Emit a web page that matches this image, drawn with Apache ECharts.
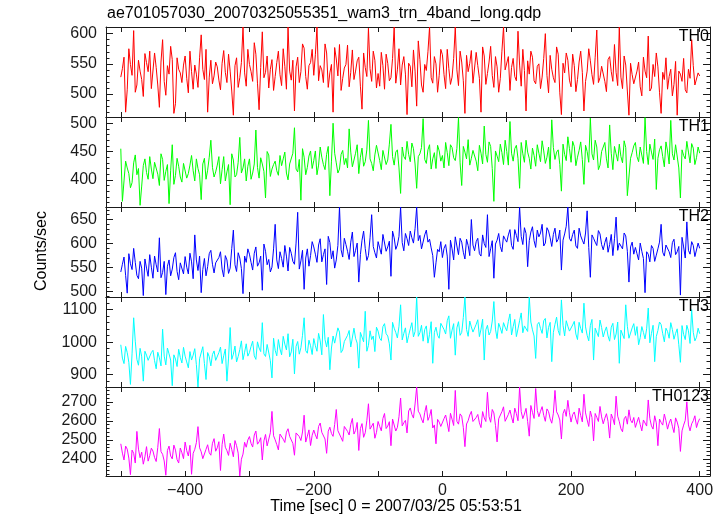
<!DOCTYPE html>
<html><head><meta charset="utf-8">
<script src="https://cdn.jsdelivr.net/npm/echarts@6/dist/echarts.min.js"></script>
<style>html,body{margin:0;padding:0;background:#fff}#c{width:723px;height:516px}</style>
</head><body><div id="c"></div>
<script>
// time bins: start and bin width (sec)
const T_START = -500, T_STEP = 2.5;

const th0 = [
528,542,561,470,507,575,549,531,605,503,515,556,538,524,496,567,552,537,571,509,
509,568,544,515,478,553,590,521,498,547,533,579,557,468,484,560,541,535,519,548,
563,526,502,571,537,508,548,533,511,560,598,541,524,574,470,528,556,517,530,553,
545,523,507,551,572,536,519,566,538,505,465,547,560,511,527,552,611,535,513,574,
549,537,521,585,566,518,474,544,603,527,536,563,510,541,557,506,529,552,571,532,
514,575,546,508,611,538,523,556,472,545,561,519,537,583,576,529,508,547,552,574,
531,565,611,522,547,540,519,583,568,511,535,549,470,577,558,530,582,506,526,543,
549,581,512,536,573,524,538,555,561,513,475,568,544,529,609,542,521,571,556,510,
534,513,569,547,508,566,551,522,527,559,611,518,540,575,515,548,562,533,466,551,
546,512,573,538,480,588,557,515,503,549,539,570,611,527,518,562,550,503,531,574,
565,532,509,574,542,516,528,559,611,540,514,571,553,522,468,564,537,551,572,518,
520,569,547,526,470,578,563,516,534,553,579,531,511,562,545,503,526,571,611,540,
538,562,506,544,559,529,522,604,548,513,574,539,472,555,533,571,561,522,517,546,
550,509,528,559,600,531,502,564,541,527,519,578,566,502,466,551,535,568,556,523,
512,566,547,504,524,553,571,536,472,521,538,575,555,532,516,561,606,519,527,546,
543,521,504,557,562,537,521,582,536,514,611,528,509,563,548,505,465,551,532,517,
519,538,553,512,497,561,538,527,596,505,510,549,529,568,545,503,468,536,524,560,
508,529,541,497,516,554,465,538,533,521,559,507,502,541,526,590,547,515,512,535,
530];

const th1 = [
455,362,398,433,421,411,386,395,430,444,409,420,355,389,425,437,413,401,441,419,
402,431,428,410,390,446,436,399,415,427,358,416,462,392,408,438,424,405,396,429,
432,403,411,426,443,416,398,437,420,409,365,428,438,401,417,440,470,422,405,414,
426,441,393,418,441,398,414,427,356,446,435,405,409,431,475,412,421,437,398,424,
437,401,412,428,488,422,403,439,428,415,368,450,444,406,419,427,433,416,408,443,
425,437,449,412,400,428,431,447,492,419,414,436,364,455,440,409,422,442,451,420,
434,451,409,426,458,440,427,418,445,459,372,433,500,447,430,412,419,445,452,427,
438,421,490,449,423,435,447,462,411,440,456,424,432,453,505,437,429,416,444,461,
460,434,418,452,449,427,435,463,498,441,426,449,453,421,376,458,441,436,468,445,
432,465,455,428,385,441,446,457,508,436,429,453,462,419,437,448,420,461,451,433,
443,421,466,448,425,462,457,439,434,455,510,430,390,459,449,437,471,426,438,452,
455,433,416,461,447,428,495,445,431,467,459,420,362,451,442,432,463,448,427,470,
450,426,503,447,433,455,461,438,385,466,446,431,470,449,438,419,456,443,424,462,
447,432,469,451,429,440,458,419,506,457,436,449,453,427,380,463,445,434,476,455,
431,468,459,425,440,452,467,436,392,461,450,431,509,446,435,470,458,418,426,450,
452,466,437,421,497,447,418,459,446,433,463,441,430,469,457,372,405,438,448,460,
466,441,432,458,455,429,510,450,427,463,449,436,472,383,438,453,460,441,423,467,
451,428,505,446,435,462,459,421,368,453,443,437,468,449,430,464,456,427,439,458,
447];

const th2 = [
541,557,572,534,497,579,558,546,590,561,534,527,563,549,492,568,549,532,577,551,
528,574,556,541,612,529,540,563,494,553,566,533,547,571,581,542,525,560,559,537,
573,551,537,580,562,527,618,566,544,574,498,546,569,533,552,579,586,557,539,560,
557,571,583,547,531,575,566,538,549,590,628,556,542,581,570,548,496,574,561,589,
578,561,545,580,593,553,560,574,503,599,584,556,567,541,551,589,640,566,548,583,
569,551,596,574,543,592,580,563,557,601,665,547,564,586,505,570,589,553,575,604,
593,578,561,597,610,562,577,589,515,615,602,568,585,549,566,596,676,587,572,611,
598,584,567,603,624,573,586,601,520,577,607,626,590,565,575,612,660,594,581,570,
604,591,578,619,621,584,593,605,532,626,612,588,597,615,676,602,585,621,610,596,
626,612,601,631,676,606,617,589,592,618,628,603,609,591,575,530,560,588,583,604,
571,590,598,574,505,607,589,566,614,595,577,611,603,582,568,609,596,575,650,597,
585,604,611,579,574,618,600,592,660,573,589,606,528,599,607,621,594,583,616,609,
603,618,629,596,588,629,617,604,676,615,598,633,621,552,606,624,635,606,592,628,
614,622,640,595,601,633,626,612,594,619,632,603,609,628,545,607,620,636,676,611,
605,619,628,595,590,632,616,607,599,622,668,592,530,618,611,603,596,627,620,598,
587,602,613,582,598,619,575,610,655,586,601,597,589,622,616,584,520,593,603,578,
592,579,566,601,584,569,498,583,578,562,596,590,563,576,589,603,640,582,574,597,
598,583,571,602,609,577,583,594,493,613,593,570,645,586,578,604,596,573,569,601,
590];

const th3 = [
992,951,934,987,968,938,870,964,1075,1003,947,929,981,955,880,972,960,944,940,968,
975,943,918,969,952,927,1040,957,930,982,964,945,866,961,948,925,978,953,936,984,
957,939,921,971,945,960,980,931,862,949,952,986,934,885,968,955,927,962,973,944,
942,968,985,934,958,979,880,951,1045,947,963,988,939,956,977,1004,946,969,995,957,
968,987,1003,958,947,1001,982,971,1060,964,956,993,990,943,890,1012,975,958,1008,979,
961,1018,994,976,1026,955,970,1009,902,987,1002,963,983,1021,1075,974,966,1006,989,962,
1011,989,972,1027,1004,961,1085,1008,985,1015,915,982,1019,997,993,1044,1031,968,976,1002,
1000,1021,1036,985,979,1043,1012,997,920,1030,1024,1001,1095,972,990,1035,1008,1019,971,1046,
1034,1012,1005,1048,1057,1026,1019,995,945,1061,1043,1030,1013,1049,1115,1007,1027,1044,998,1021,
1041,1060,1016,1033,1139,1018,1029,1052,1003,1039,1050,997,1024,1063,935,1030,1046,1021,1012,1058,
1058,1039,1025,1066,1081,1012,1037,1057,960,1044,1063,1021,1030,1076,1139,1039,1018,1065,1047,1031,
1026,1055,1069,1017,1040,1071,945,1038,1052,1022,1033,1065,1125,1040,1011,1058,1044,1027,1060,1046,
1035,1064,1087,1022,1048,1070,1017,1041,1066,1090,1029,1050,1054,1033,1139,1062,1038,1019,950,1054,
1061,1042,1027,1066,1073,1013,1045,1061,940,1030,1055,1077,1036,1021,1130,1052,1019,1066,1049,1034,
1030,1053,1064,1025,1008,1061,1042,1028,1120,1047,1021,1004,1051,1070,945,1043,1037,1017,1068,1045,
1016,1034,1047,1019,1003,1046,1058,1008,1025,1062,935,1037,1039,1011,1115,1049,1012,1028,1044,1057,
1021,1048,992,1014,1048,1030,1010,1041,1105,998,1027,1052,940,1017,1036,1062,1054,1026,1001,1043,
1033,1012,1060,1039,1009,1027,1041,992,938,1051,1024,1008,1052,1035,996,1100,1030,1004,1015,1043,
1026];

const th0123 = [
2480,2431,2395,2468,2452,2405,2318,2447,2430,2379,2545,2452,2407,2436,2373,2412,2465,2389,2418,2457,
2442,2408,2387,2461,2560,2439,2425,2390,2315,2445,2468,2416,2401,2473,2447,2397,2379,2458,2433,2402,
2489,2444,2416,2472,2320,2430,2451,2486,2570,2459,2438,2402,2397,2451,2475,2433,2420,2483,2507,2441,
2459,2491,2340,2476,2531,2462,2444,2419,2483,2450,2412,2497,2470,2431,2311,2399,2426,2488,2462,2500,
2518,2482,2463,2526,2547,2478,2490,2512,2395,2495,2529,2469,2475,2538,2650,2522,2501,2476,2448,2531,
2536,2504,2487,2541,2559,2519,2509,2482,2420,2537,2543,2518,2497,2542,2630,2489,2520,2553,2471,2525,
2552,2527,2506,2571,2589,2540,2531,2505,2430,2546,2567,2534,2519,2581,2660,2549,2545,2512,2493,2571,
2574,2545,2526,2582,2613,2531,2550,2592,2445,2560,2586,2514,2538,2601,2690,2557,2561,2588,2509,2540,
2597,2571,2548,2613,2639,2560,2573,2596,2470,2610,2612,2547,2566,2622,2720,2574,2590,2603,2537,2652,
2668,2634,2615,2689,2778,2651,2637,2610,2590,2645,2681,2603,2624,2660,2563,2579,2480,2608,2594,2571,
2572,2612,2631,2589,2544,2640,2609,2576,2760,2598,2583,2637,2625,2566,2465,2584,2601,2631,2650,2597,
2587,2618,2634,2590,2565,2649,2616,2597,2750,2622,2593,2660,2642,2577,2490,2611,2620,2649,2674,2598,
2603,2634,2657,2620,2589,2667,2638,2601,2778,2649,2612,2636,2666,2597,2520,2681,2645,2613,2770,2655,
2622,2651,2675,2629,2598,2663,2649,2611,2588,2640,2760,2648,2631,2605,2505,2638,2661,2624,2708,2643,
2594,2633,2647,2610,2583,2667,2628,2595,2740,2642,2606,2571,2652,2618,2495,2639,2619,2597,2676,2621,
2585,2614,2638,2597,2510,2636,2613,2580,2730,2625,2596,2559,2543,2611,2624,2583,2658,2604,2590,2618,
2566,2593,2619,2581,2548,2605,2601,2573,2710,2612,2574,2557,2627,2590,2470,2610,2592,2578,2636,2601,
2557,2589,2610,2572,2539,2616,2594,2561,2440,2548,2578,2603,2700,2579,2548,2585,2601,2627,2565,2594,
2612];

const panelNames = ['TH0','TH1','TH2','TH3','TH0123'];
const seriesValues = [th0, th1, th2, th3, th0123];
const colors = ['#ff0000','#00ff00','#0000ff','#00ffff','#ff00ff'];
const yRanges = [[462,611],[352,511],[489,676],[862,1139],[2311,2778]];
const yMajor = [[500,550,600],[400,450,500],[500,550,600,650],[900,1000,1100],[2400,2500,2600,2700]];
const yMinorStep = [10,10,10,20,20];
const xRange = [-523, 416];
const xTicks = [-500,-400,-300,-200,-100,0,100,200,300,400];
const xLabels = [-400,-200,0,200,400];
const titleText = 'ae701057030_20070325055351_wam3_trn_4band_long.qdp';
const xName = 'Time [sec] 0 = 2007/03/25 05:53:51';
const yName = 'Counts/sec';

const gridTops = [27,117,207,297,387];
const gridHeights = [90,90,90,90,89];
const FONT = '"Liberation Sans", Arial, Helvetica, sans-serif';
const INK = '#1a1a1a';

function minorTicks(range, step, major){
  const out = [];
  for (let v = Math.ceil(range[0]/step)*step; v <= range[1]; v += step){
    if (major.indexOf(v) < 0) out.push(v);
  }
  return out;
}
const fmtX = v => v < 0 ? '\u2212' + (-v) : String(v);
const fmtY = v => String(v);

const grids = [], xAxes = [], yAxes = [], series = [], graphics = [];
for (let i = 0; i < 5; i++){
  grids.push({left:106, right:13, top:gridTops[i], height:gridHeights[i], containLabel:false, outerBoundsMode:'none'});
  const xBase = {gridIndex:i, type:'value', min:xRange[0], max:xRange[1],
    axisLine:{show:true, onZero:false, lineStyle:{color:INK, width:1}},
    splitLine:{show:false}};
  xAxes.push(Object.assign({}, xBase, {position:'bottom',
    axisTick:{show:true, inside:true, length:5, customValues:xTicks, lineStyle:{color:INK}},
    axisLabel:{show:i===4, customValues:xLabels, formatter:fmtX, fontSize:16, color:INK, margin:7, fontFamily:FONT}}));
  xAxes.push(Object.assign({}, xBase, {position:'top',
    axisTick:{show:true, inside:true, length:5, customValues:xTicks, lineStyle:{color:INK}},
    axisLabel:{show:false}}));
  const r = yRanges[i];
  const minors = minorTicks(r, yMinorStep[i], yMajor[i]);
  ['left','right'].forEach(pos => {
    yAxes.push({gridIndex:i, type:'value', position:pos, offset:0, min:r[0], max:r[1],
      axisLine:{show:true, onZero:false, lineStyle:{color:INK, width:1}},
      axisTick:{show:true, inside:true, length:7, customValues:yMajor[i], lineStyle:{color:INK}},
      axisLabel:{show:pos==='left', customValues:yMajor[i], formatter:fmtY, fontSize:16, color:INK, margin:9, fontFamily:FONT},
      splitLine:{show:false}});
    yAxes.push({gridIndex:i, type:'value', position:pos, offset:0, min:r[0], max:r[1],
      axisLine:{show:false, onZero:false},
      axisTick:{show:true, inside:true, length:3.5, customValues:minors, lineStyle:{color:INK}},
      axisLabel:{show:false}, splitLine:{show:false}});
  });
  const vals = seriesValues[i];
  series.push({type:'line', xAxisIndex:2*i, yAxisIndex:4*i,
    data: vals.map((v,k) => [T_START + k*T_STEP, v]),
    symbol:'none', showSymbol:false, animation:false, clip:true,
    lineStyle:{width:1, color:colors[i]}, itemStyle:{color:colors[i]}});
  graphics.push({type:'text', right:14, top:gridTops[i]+2, z:100,
    style:{text:panelNames[i], font:'16px '+FONT, fill:'#000', textAlign:'right'}});
}
graphics.push({type:'text', left:107, top:6, style:{text:titleText, font:'16px '+FONT, fill:'#000'}});
graphics.push({type:'text', x:396, y:507, style:{text:xName, font:'16px '+FONT, fill:'#000', textAlign:'center', textVerticalAlign:'middle'}});
graphics.push({type:'text', x:42, y:251, rotation:Math.PI/2,
  style:{text:yName, font:'16px '+FONT, fill:'#000', textAlign:'center', textVerticalAlign:'middle'}});

const chart = echarts.init(document.getElementById('c'), null, {renderer:'canvas'});
chart.setOption({
  animation:false, backgroundColor:'#fff',
  grid:grids, xAxis:xAxes, yAxis:yAxes, series:series, graphic:graphics
});
</script></body></html>
